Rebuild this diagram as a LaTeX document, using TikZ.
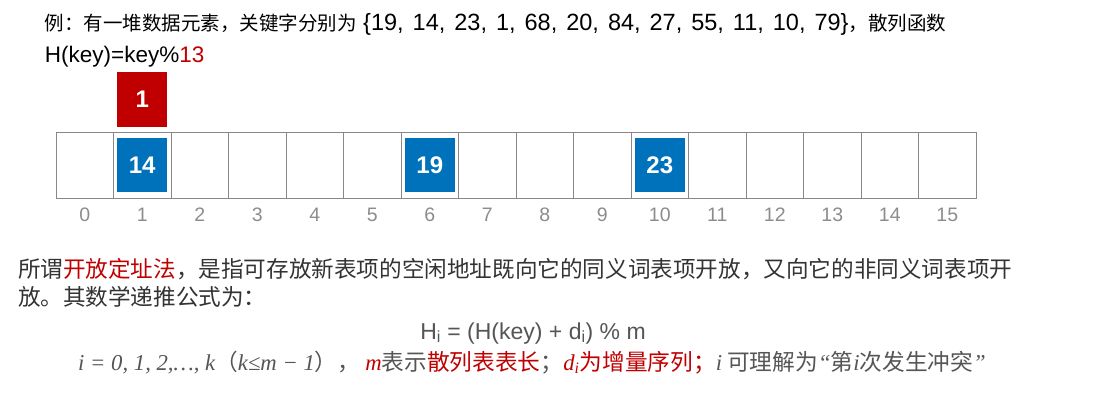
\documentclass[tikz,border=0pt]{standalone}
\usepackage{fontspec}
\setmainfont{Liberation Sans}
\newfontfamily\zh{Noto Sans CJK SC}
\newfontfamily\seriffam{Liberation Serif}
\usepackage{xcolor}
\definecolor{keyred}{HTML}{C00000}
\definecolor{keyblue}{HTML}{0072BC}
\definecolor{idxgray}{HTML}{8C8C8C}
\definecolor{gridgray}{HTML}{888888}
\definecolor{paragray}{HTML}{333333}
\definecolor{txtgray}{HTML}{555555}
\newcommand{\hz}[1]{{\zh\fontsize{19.5}{24}\selectfont #1}}
\newcommand{\itx}[1]{{\seriffam\itshape #1}}

\begin{document}
\begin{tikzpicture}[x=1pt,y=-1pt,
  every node/.style={inner sep=0pt,outer sep=0pt},
  cell/.style={draw=gridgray,line width=0.8pt,minimum width=57.5pt,minimum height=66pt},
  keybox/.style={minimum width=50pt,minimum height=54pt,text=white,font=\fontsize{24}{24}\selectfont\bfseries},
  idx/.style={anchor=base,text=idxgray,font=\fontsize{19.5}{20}\selectfont},
  line/.style={anchor=base west,font=\fontsize{22.5}{28}\selectfont}
]
\useasboundingbox (0,0) rectangle (1120,404);

% example keys and hash function
\node[line,text=black] (title) at (45,31)
  {\hz{例：有一堆数据元素，关键字分别为} {\fontsize{23.5}{28}\selectfont\spaceskip=9pt\{19, 14, 23, 1, 68, 20, 84, 27, 55, 11, 10, 79\}}\hz{，散列函数}};
\node[line,text=black] (hashfn) at (45,63) {H(key)=key\%\textcolor{keyred}{13}};

% hash table
\foreach \i in {0,...,15}{
  \node[cell] (cell\i) at ({84.75+57.5*\i},165) {};
  \node[idx] (idx\i) at ({84.75+57.5*\i},221) {\i};
}
\node[keybox,fill=keyblue] (key14) at (cell1) {14};
\node[keybox,fill=keyblue] (key19) at (cell6) {19};
\node[keybox,fill=keyblue] (key23) at (cell10) {23};
\node[keybox,fill=keyred,minimum height=55pt] (key1) at (142.25,99.5) {1};

% open addressing
\node[anchor=base west,text=paragray,font=\zh\fontsize{22.6}{28}\selectfont] (para1) at (18,277)
  {所谓\textcolor{keyred}{开放定址法}，是指可存放新表项的空闲地址既向它的同义词表项开放，又向它的非同义词表项开};
\node[anchor=base west,text=paragray,font=\zh\fontsize{22.6}{28}\selectfont] (para2) at (18,305)
  {放。其数学递推公式为：};
\node[anchor=base,text=txtgray,font=\fontsize{23}{28}\selectfont] (formula) at (533,339)
  {H\textsubscript{i} = (H(key) + d\textsubscript{i}) \% m};
\node[anchor=base,text=txtgray,font=\fontsize{22.7}{28}\selectfont] (note) at (532,370)
  {\itx{i = 0, 1, 2,…, k}\zh（\itx{k≤m − 1}\zh）， \textcolor{keyred}{\itx{m}}\zh 表示\textcolor{keyred}{散列表表长}；%
   \textcolor{keyred}{\itx{d\textsubscript{i}}\zh 为增量序列；}\itx{i} \zh 可理解为\itx{“}第\itx{i}次发生冲突\itx{”}};
\end{tikzpicture}
\end{document}
